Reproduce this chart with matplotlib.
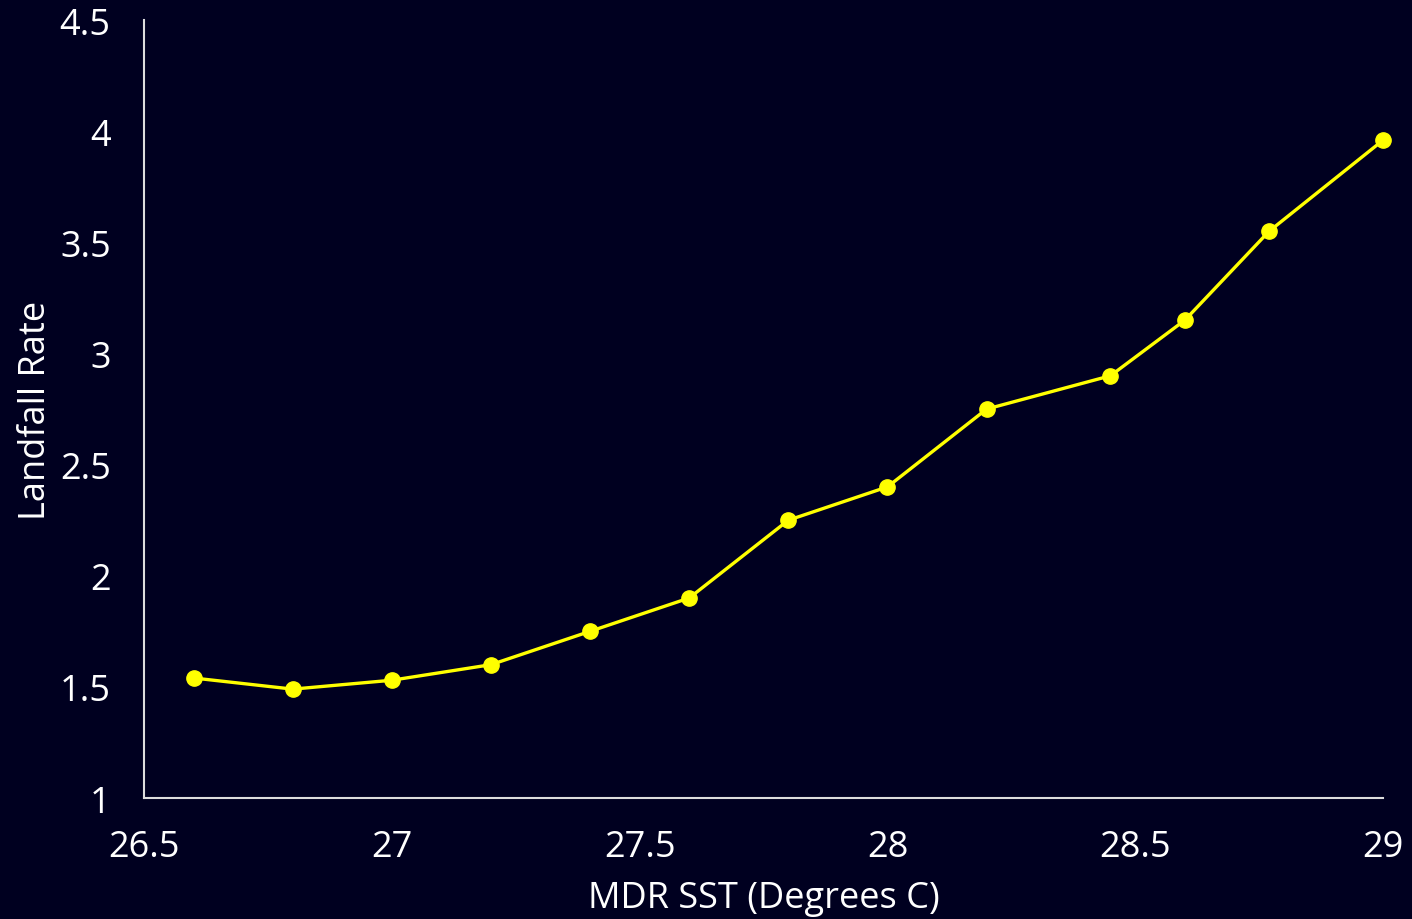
import matplotlib
matplotlib.use('Agg')
import matplotlib.pyplot as plt

# Data
sst = [26.6, 26.8, 27.0, 27.2, 27.4, 27.6, 27.8, 28.0, 28.2, 28.45, 28.6, 28.77, 29.0]
rate = [1.54, 1.49, 1.53, 1.60, 1.75, 1.90, 2.25, 2.40, 2.75, 2.90, 3.15, 3.55, 3.96]
xticks = [26.5, 27, 27.5, 28, 28.5, 29]
xtick_labels = ['26.5', '27', '27.5', '28', '28.5', '29']
yticks = [1, 1.5, 2, 2.5, 3, 3.5, 4, 4.5]
ytick_labels = ['1', '1.5', '2', '2.5', '3', '3.5', '4', '4.5']

bg = '#000020'
fg = '#ffffff'

plt.rcParams['font.family'] = ['Open Sans', 'DejaVu Sans']

fig = plt.figure(figsize=(14.12, 9.2), dpi=100, facecolor=bg)
ax = fig.add_axes([0.102, 0.1315, 0.8775, 0.8455])
ax.set_facecolor(bg)

ax.plot(sst, rate, color='#ffff00', linewidth=2.4, marker='o', markersize=11,
        clip_on=False, zorder=3)

ax.set_xlim(26.5, 29)
ax.set_ylim(1, 4.5)
ax.set_xticks(xticks)
ax.set_xticklabels(xtick_labels)
ax.set_yticks(yticks)
ax.set_yticklabels(ytick_labels)
ax.tick_params(axis='both', length=0, colors=fg, labelsize=26)
ax.tick_params(axis='x', pad=22)
ax.tick_params(axis='y', pad=24)

for s in ['top', 'right']:
    ax.spines[s].set_visible(False)
for s in ['left', 'bottom']:
    ax.spines[s].set_color('#dddddd')
    ax.spines[s].set_linewidth(1.5)

ax.set_xlabel('MDR SST (Degrees C)', color=fg, fontsize=26, labelpad=11)
ax.set_ylabel('Landfall Rate', color=fg, fontsize=26, labelpad=4)

fig.savefig('out.png', dpi=100, facecolor=bg)
